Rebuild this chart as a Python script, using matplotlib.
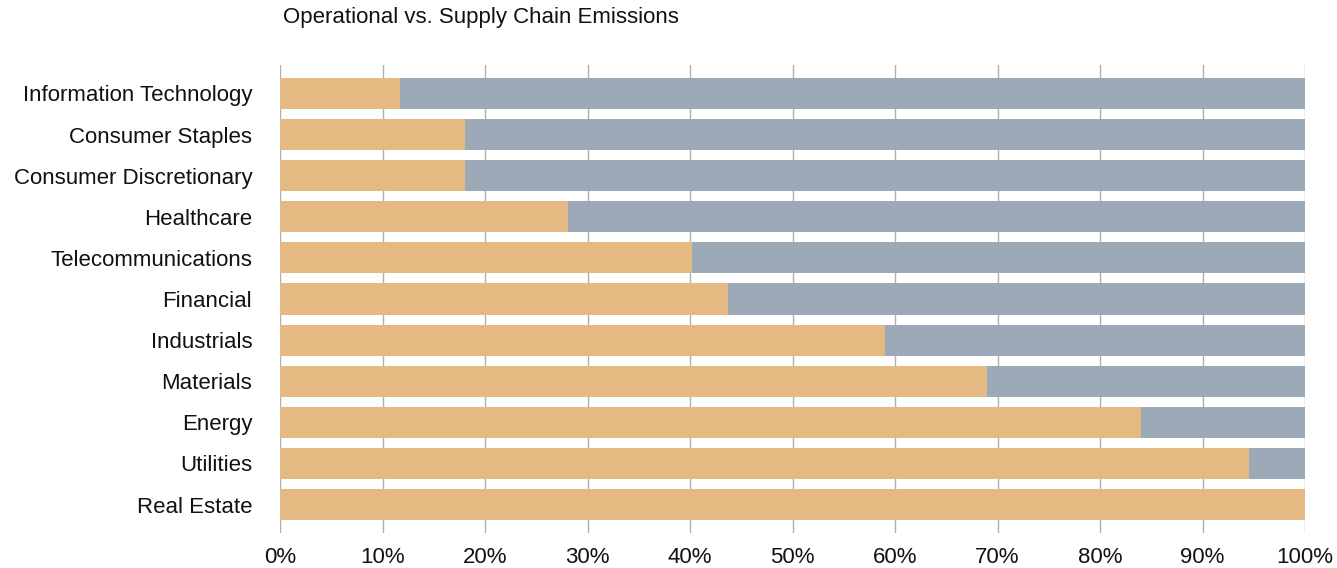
import matplotlib.pyplot as plt
from matplotlib.ticker import PercentFormatter

plt.rcParams['font.family'] = ['Liberation Sans', 'DejaVu Sans']

sectors = ['Information Technology', 'Consumer Staples', 'Consumer Discretionary',
           'Healthcare', 'Telecommunications', 'Financial', 'Industrials',
           'Materials', 'Energy', 'Utilities', 'Real Estate']
operational = [11.7, 18.0, 18.0, 28.1, 40.2, 43.7, 59.0, 69.0, 84.0, 94.5, 100.0]
supply_chain = [88.3, 82.0, 82.0, 71.9, 59.8, 56.3, 41.0, 31.0, 16.0, 5.5, 0.0]

fig = plt.figure(figsize=(13.37, 5.68), dpi=100)
ax = fig.add_axes([280 / 1337, 35 / 568, 1025 / 1337, 468 / 568])

y = range(len(sectors))
ax.barh(y, operational, height=0.755, color='#E5BA82', zorder=2)
ax.barh(y, supply_chain, left=operational, height=0.755, color='#9BAAB6', zorder=2)

ax.set_xlim(0, 100)
ax.set_ylim(10.69, -0.69)
ax.set_xticks(range(0, 101, 10))
ax.xaxis.set_major_formatter(PercentFormatter(decimals=0))
ax.set_yticks(list(y))
ax.set_yticklabels(sectors)
ax.tick_params(axis='x', length=0, pad=10, labelsize=16, colors='#111111')
ax.tick_params(axis='y', length=0, pad=20, labelsize=16, colors='#111111')
ax.grid(axis='x', color='#AFAFAF', linewidth=1.0, zorder=0)
ax.set_axisbelow(True)
for s in ax.spines.values():
    s.set_visible(False)

fig.text(283 / 1337, 1 - 18 / 568, 'Operational vs. Supply Chain Emissions',
         fontsize=16, ha='left', va='center', color='#111111')

fig.savefig('out.png', dpi=100)
